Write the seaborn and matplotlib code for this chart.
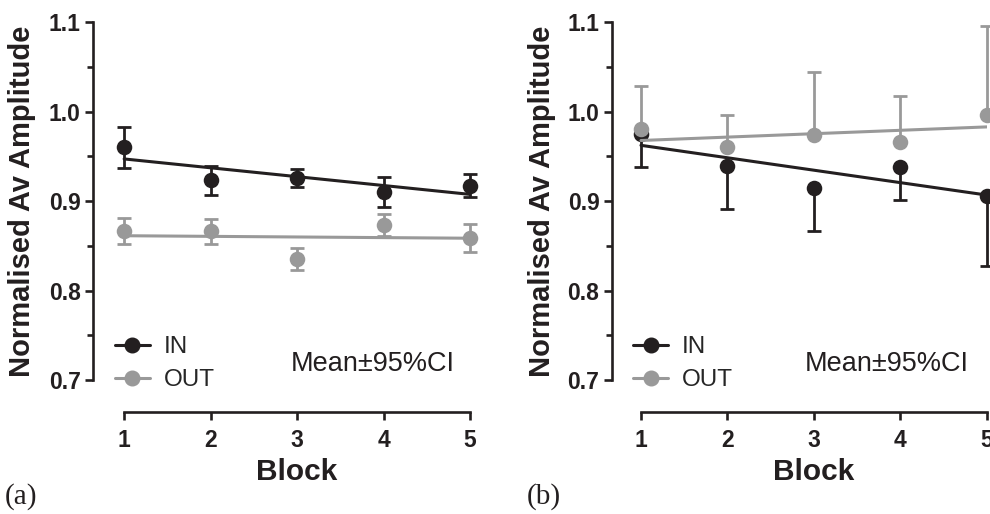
import numpy as np
import pandas as pd
import matplotlib
matplotlib.use("Agg")
import matplotlib.pyplot as plt
from matplotlib.lines import Line2D
from matplotlib.ticker import MultipleLocator
import seaborn as sns

# ---- data ----
blocks = [1, 2, 3, 4, 5]
series = ["IN", "OUT"]
in_a = [0.960, 0.923, 0.926, 0.910, 0.917]
ci_in_a = [0.023, 0.016, 0.010, 0.017, 0.013]
out_a = [0.866, 0.866, 0.835, 0.873, 0.859]
ci_out_a = [0.0145, 0.0135, 0.0125, 0.0125, 0.0155]
in_b = [0.975, 0.939, 0.914, 0.938, 0.906]
ci_in_b = [0.037, 0.048, 0.048, 0.037, 0.079]
out_b = [0.980, 0.960, 0.974, 0.966, 0.996]
ci_out_b = [0.049, 0.036, 0.070, 0.051, 0.100]
y_ticks = [0.7, 0.8, 0.9, 1.0, 1.1]
panel_labels = ["(a)", "(b)"]

sns.set_style("ticks")
plt.rcParams["font.family"] = ["Liberation Sans", "DejaVu Sans"]

BLACK = "#231f20"
GRAY = "#999999"

fig = plt.figure(figsize=(9.9, 5.14), dpi=100)
W, H = 990, 514


def make_ax(left_px, right_px):
    return fig.add_axes([left_px / W, (H - 380) / H, (right_px - left_px) / W, (380 - 22) / H])


ax_a = make_ax(93, 470)
ax_b = make_ax(612, 987)

panels = [
    (ax_a, 0.64, in_a, ci_in_a, out_a, ci_out_a, False, 0.525, 0.058),
    (ax_b, 0.665, in_b, ci_in_b, out_b, ci_out_b, True, 0.515, 0.056),
]

for i, (ax, xmin, yin, cin, yout, cout, one_sided, txt_x, leg_x) in enumerate(panels):
    df_in = pd.DataFrame({"Block": blocks, "Amp": yin})
    df_out = pd.DataFrame({"Block": blocks, "Amp": yout})
    cin = np.array(cin)
    cout = np.array(cout)
    zeros = np.zeros_like(cin)
    if one_sided:
        err_in = [cin, zeros]
        err_out = [zeros, cout]
    else:
        err_in = [cin, cin]
        err_out = [cout, cout]

    # regression lines through the means
    sns.regplot(data=df_in, x="Block", y="Amp", ci=None, scatter=False, ax=ax,
                color=BLACK, line_kws=dict(lw=2.2, zorder=3))
    sns.regplot(data=df_out, x="Block", y="Amp", ci=None, scatter=False, ax=ax,
                color=GRAY, line_kws=dict(lw=2.2, zorder=5))

    # error bars
    ax.errorbar(blocks, yin, yerr=err_in, fmt="none", ecolor=BLACK, elinewidth=2.0,
                capsize=4.8, capthick=2.0, zorder=4, clip_on=False)
    ax.errorbar(blocks, yout, yerr=err_out, fmt="none", ecolor=GRAY, elinewidth=2.0,
                capsize=4.8, capthick=2.0, zorder=6, clip_on=False)

    # markers
    sns.scatterplot(data=df_in, x="Block", y="Amp", ax=ax, color=BLACK, s=125,
                    linewidth=0, zorder=4.5, clip_on=False)
    sns.scatterplot(data=df_out, x="Block", y="Amp", ax=ax, color=GRAY, s=125,
                    linewidth=0, zorder=6.5, clip_on=False)

    ax.set_xlim(xmin, 5.0)
    ax.set_ylim(0.7, 1.1)
    ax.set_xticks(blocks)
    ax.set_yticks(y_ticks)
    ax.set_yticklabels([f"{v:.1f}" for v in y_ticks])
    ax.yaxis.set_minor_locator(MultipleLocator(0.05))

    for side in ["top", "right"]:
        ax.spines[side].set_visible(False)
    for side in ["left", "bottom"]:
        ax.spines[side].set_linewidth(1.9)
        ax.spines[side].set_color(BLACK)
    ax.spines["bottom"].set_position(("outward", 23))
    ax.spines["bottom"].set_bounds(1, 5)
    ax.spines["left"].set_bounds(0.7, 1.1)

    ax.tick_params(axis="y", which="major", direction="out", length=6, width=1.9,
                   color=BLACK, labelsize=16.5, pad=3, labelcolor=BLACK)
    ax.tick_params(axis="x", which="major", direction="out", length=6, width=1.9,
                   color=BLACK, labelsize=16.5, pad=6, labelcolor=BLACK)
    ax.tick_params(axis="y", which="minor", direction="out", length=4, width=1.9, color=BLACK)
    for lab in ax.get_xticklabels() + ax.get_yticklabels():
        lab.set_fontweight("bold")

    ax.set_xlabel("Block", fontsize=21.5, fontweight="bold", color=BLACK)
    ax.set_ylabel("Normalised Av Amplitude", fontsize=21, fontweight="bold", color=BLACK)
    ax.xaxis.set_label_coords((1 - xmin) / (5 - xmin) / 2 + 0.5 - 0.0 - ((1 - xmin) / (5 - xmin)) / 2 + ((1 - xmin) / (5 - xmin)) / 2, -0.258)
    ax.xaxis.label.set_va("center")
    ax.yaxis.set_label_coords(-0.188, 0.5)
    ax.yaxis.label.set_va("center")
    ax.set_facecolor("white")

    handles = [
        Line2D([], [], color=BLACK, lw=2.2, marker="o", markersize=10.5),
        Line2D([], [], color=GRAY, lw=2.2, marker="o", markersize=10.5),
    ]
    ax.legend(handles, series, loc="center left", bbox_to_anchor=(leg_x, 0.045),
              frameon=False, fontsize=17.5, handlelength=1.45, handletextpad=0.55,
              labelspacing=0.45, borderpad=0, borderaxespad=0)

    ax.text(txt_x, 0.045, "Mean\u00b195%CI", transform=ax.transAxes, fontsize=19.5,
            va="center", ha="left", color=BLACK)

fig.text(5 / W, 1 - 497 / H, panel_labels[0], family=["Liberation Serif", "DejaVu Serif"],
         fontsize=21, va="center", ha="left", color=BLACK)
fig.text(527 / W, 1 - 497 / H, panel_labels[1], family=["Liberation Serif", "DejaVu Serif"],
         fontsize=21, va="center", ha="left", color=BLACK)

fig.savefig("out.png", dpi=100, facecolor="white")
